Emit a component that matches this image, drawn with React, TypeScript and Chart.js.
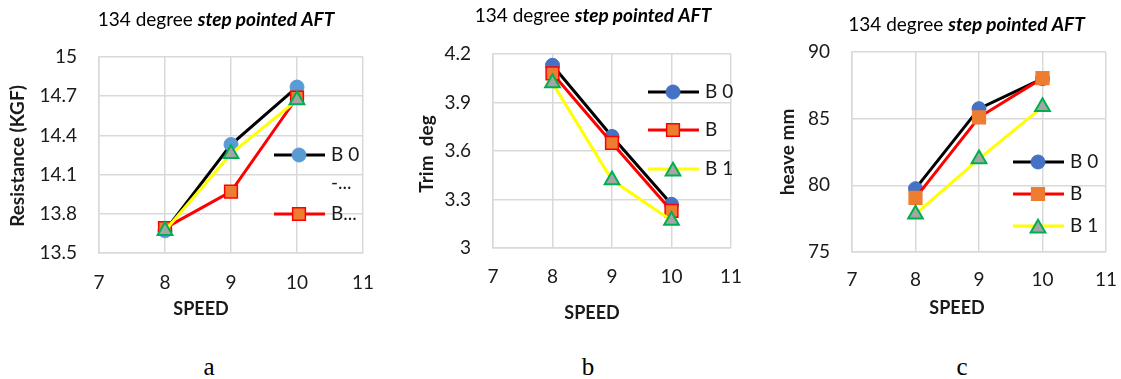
import React, { useEffect, useRef } from 'react';
import { Chart, registerables } from 'chart.js';

Chart.register(...registerables);

// ---------- data ----------
const speeds = [8, 9, 10];
const xTicks = [7, 8, 9, 10, 11];
const seriesNames = ['B 0', 'B', 'B 1'];

const resistanceB0 = [13.67, 14.33, 14.77];
const resistanceB = [13.69, 13.97, 14.69];
const resistanceB1 = [13.67, 14.26, 14.67];
const resistanceTicks = [13.5, 13.8, 14.1, 14.4, 14.7, 15];

const trimB0 = [4.13, 3.69, 3.27];
const trimB = [4.08, 3.65, 3.23];
const trimB1 = [4.02, 3.42, 3.17];
const trimTicks = [3, 3.3, 3.6, 3.9, 4.2];

const heaveB0 = [79.75, 85.75, 88.0];
const heaveB = [79.06, 85.1, 88.04];
const heaveB1 = [77.84, 81.98, 85.89];
const heaveTicks = [75, 80, 85, 90];

const titlePlain = '134 degree ';
const titleBold = 'step pointed AFT';
const xTitle = 'SPEED';
const legendLabelsA = ['B 0', '-...', 'B...'];
const captions = ['a', 'b', 'c'];

// ---------- styling ----------
const FONT = 'Lato, "Open Sans", sans-serif';
const GRID = '#d9d9d9';
const TEXT = '#1a1a1a';
const CANVAS_H = 330;
const TICK_SIZE = 19;

type LegendEntry = { label: string; ds: number | null; y: number };

type PanelSpec = {
  left: number;
  width: number;
  padTop: number;
  padRight: number;
  yAxisW: number;
  xAxisH: number;
  xLabelOffset: number;
  yMin: number;
  yMax: number;
  yTicks: number[];
  values: number[][];
  yTitle: string;
  circleColor: string;
  squareBorder: string;
  titleX: number;
  titleY: number;
  yTitleX: number;
  yTitleY: number;
  xTitleX: number;
  xTitleY: number;
  legend: LegendEntry[];
  legLineX1: number;
  legLineX2: number;
  legMarkerX: number;
  legTextX: number;
  captionX: number;
};

const panels: PanelSpec[] = [
  {
    left: 0, width: 383, padTop: 57, padRight: 20, yAxisW: 99, xAxisH: CANVAS_H - 253, xLabelOffset: 29.7,
    yMin: 13.5, yMax: 15, yTicks: resistanceTicks,
    values: [resistanceB0, resistanceB, resistanceB1],
    yTitle: 'Resistance (KGF)', circleColor: '#5B9BD5', squareBorder: '#FF0000',
    titleX: 216, titleY: 20, yTitleX: 18, yTitleY: 156, xTitleX: 201, xTitleY: 309,
    legend: [
      { label: legendLabelsA[0], ds: 0, y: 155 },
      { label: legendLabelsA[1], ds: null, y: 183 },
      { label: legendLabelsA[2], ds: 1, y: 214 },
    ],
    legLineX1: 274, legLineX2: 325, legMarkerX: 299, legTextX: 331, captionX: 209,
  },
  {
    left: 375, width: 376, padTop: 54, padRight: 20, yAxisW: 118, xAxisH: CANVAS_H - 248, xLabelOffset: 29,
    yMin: 3, yMax: 4.2, yTicks: trimTicks,
    values: [trimB0, trimB, trimB1],
    yTitle: 'Trim  deg', circleColor: '#4472C4', squareBorder: '#FF0000',
    titleX: 218, titleY: 15.5, yTitleX: 52, yTitleY: 154, xTitleX: 217, xTitleY: 313,
    legend: [
      { label: seriesNames[0], ds: 0, y: 92 },
      { label: seriesNames[1], ds: 1, y: 130 },
      { label: seriesNames[2], ds: 2, y: 169 },
    ],
    legLineX1: 273, legLineX2: 324, legMarkerX: 298, legTextX: 330, captionX: 588,
  },
  {
    left: 745, width: 381, padTop: 52, padRight: 20, yAxisW: 107, xAxisH: CANVAS_H - 252, xLabelOffset: 28.3,
    yMin: 75, yMax: 90, yTicks: heaveTicks,
    values: [heaveB0, heaveB, heaveB1],
    yTitle: 'heave mm', circleColor: '#4472C4', squareBorder: '#ED7D31',
    titleX: 221.5, titleY: 24.5, yTitleX: 43, yTitleY: 152, xTitleX: 212, xTitleY: 308,
    legend: [
      { label: seriesNames[0], ds: 0, y: 162 },
      { label: seriesNames[1], ds: 1, y: 194 },
      { label: seriesNames[2], ds: 2, y: 226 },
    ],
    legLineX1: 268, legLineX2: 319, legMarkerX: 293, legTextX: 325, captionX: 962,
  },
];

function drawMarker(ctx: CanvasRenderingContext2D, style: string, x: number, y: number, r: number,
  fill: string, stroke: string, bw: number) {
  ctx.beginPath();
  if (style === 'circle') {
    ctx.arc(x, y, r, 0, Math.PI * 2);
  } else if (style === 'rect') {
    const s = Math.SQRT1_2 * r;
    ctx.rect(x - s, y - s, 2 * s, 2 * s);
  } else {
    const yc = y + r / 4;
    ctx.moveTo(x, yc - r);
    ctx.lineTo(x + r * Math.sin((2 * Math.PI) / 3), yc + r * 0.5);
    ctx.lineTo(x - r * Math.sin((2 * Math.PI) / 3), yc + r * 0.5);
  }
  ctx.closePath();
  ctx.fillStyle = fill;
  ctx.fill();
  if (bw > 0) {
    ctx.lineWidth = bw;
    ctx.strokeStyle = stroke;
    ctx.stroke();
  }
}

function makeDecor(spec: PanelSpec) {
  return {
    id: 'decor',
    afterDraw(chart: any) {
      const ctx: CanvasRenderingContext2D = chart.ctx;
      ctx.save();
      // chart title
      const f1 = `19px ${FONT}`;
      const f2 = `italic bold 19px ${FONT}`;
      ctx.font = f1;
      const w1 = ctx.measureText(titlePlain).width;
      ctx.font = f2;
      const w2 = ctx.measureText(titleBold).width;
      const x0 = spec.titleX - (w1 + w2) / 2;
      ctx.fillStyle = '#000';
      ctx.textBaseline = 'middle';
      ctx.textAlign = 'left';
      ctx.font = f1;
      ctx.fillText(titlePlain, x0, spec.titleY);
      ctx.font = f2;
      ctx.fillText(titleBold, x0 + w1, spec.titleY);

      // axis titles
      ctx.fillStyle = TEXT;
      ctx.textAlign = 'center';
      ctx.font = `bold 19px ${FONT}`;
      ctx.save();
      ctx.translate(spec.yTitleX, spec.yTitleY);
      ctx.rotate(-Math.PI / 2);
      ctx.fillText(spec.yTitle, 0, 0);
      ctx.restore();
      ctx.font = `bold 18px ${FONT}`;
      ctx.fillText(xTitle, spec.xTitleX, spec.xTitleY);

      // legend
      const dsets = chart.data.datasets;
      spec.legend.forEach((e) => {
        if (e.ds !== null) {
          const d = dsets[e.ds];
          ctx.beginPath();
          ctx.moveTo(spec.legLineX1, e.y);
          ctx.lineTo(spec.legLineX2, e.y);
          ctx.lineWidth = 3;
          ctx.strokeStyle = d.borderColor;
          ctx.stroke();
          drawMarker(ctx, d.pointStyle, spec.legMarkerX, e.y, d.pointRadius,
            d.pointBackgroundColor, d.pointBorderColor, d.pointBorderWidth);
        }
        ctx.fillStyle = TEXT;
        ctx.font = `19px ${FONT}`;
        ctx.textAlign = 'left';
        ctx.textBaseline = 'middle';
        ctx.fillText(e.label, spec.legTextX, e.y);
      });
      ctx.restore();
    },
  };
}

function buildConfig(spec: PanelSpec): any {
  const pts = (vals: number[]) => speeds.map((x, i) => ({ x, y: vals[i] }));
  return {
    type: 'line',
    data: {
      datasets: [
        {
          label: seriesNames[0], data: pts(spec.values[0]), order: 3,
          borderColor: '#000000', borderWidth: 3, tension: 0,
          pointStyle: 'circle', pointRadius: 7,
          pointBackgroundColor: spec.circleColor, pointBorderColor: spec.circleColor, pointBorderWidth: 1,
        },
        {
          label: seriesNames[1], data: pts(spec.values[1]), order: 2,
          borderColor: '#FF0000', borderWidth: 3, tension: 0,
          pointStyle: 'rect', pointRadius: 9,
          pointBackgroundColor: '#ED7D31', pointBorderColor: spec.squareBorder, pointBorderWidth: 1.5,
        },
        {
          label: seriesNames[2], data: pts(spec.values[2]), order: 1,
          borderColor: '#FFFF00', borderWidth: 3, tension: 0,
          pointStyle: 'triangle', pointRadius: 8.5,
          pointBackgroundColor: '#A5A5A5', pointBorderColor: '#00B050', pointBorderWidth: 2,
        },
      ],
    },
    options: {
      animation: false,
      responsive: false,
      devicePixelRatio: 1,
      layout: { padding: { left: 0, right: spec.padRight, top: spec.padTop, bottom: 0 } },
      plugins: { legend: { display: false }, tooltip: { enabled: false }, title: { display: false } },
      scales: {
        x: {
          type: 'linear', min: 7, max: 11,
          afterBuildTicks: (s: any) => { s.ticks = xTicks.map((v) => ({ value: v })); },
          afterFit: (s: any) => { s.height = spec.xAxisH; },
          grid: { color: GRID, lineWidth: 1.5, drawTicks: false },
          border: { color: GRID, width: 1.5 },
          ticks: {
            padding: 0, color: TEXT,
            font: { family: FONT, size: TICK_SIZE, lineHeight: (2 * spec.xLabelOffset) / TICK_SIZE },
            callback: (v: any) => String(v),
          },
        },
        y: {
          type: 'linear', min: spec.yMin, max: spec.yMax,
          afterBuildTicks: (s: any) => { s.ticks = spec.yTicks.map((v) => ({ value: v })); },
          afterFit: (s: any) => { s.width = spec.yAxisW; },
          grid: { color: GRID, lineWidth: 1.5, drawTicks: false },
          border: { color: GRID, width: 1.5 },
          ticks: { padding: 22, color: TEXT, font: { family: FONT, size: TICK_SIZE }, callback: (v: any) => String(v) },
        },
      },
    },
    plugins: [makeDecor(spec)],
  };
}

function ChartPanel({ spec }: { spec: PanelSpec }) {
  const ref = useRef<HTMLCanvasElement>(null);
  useEffect(() => {
    const chart = new Chart(ref.current as HTMLCanvasElement, buildConfig(spec));
    return () => chart.destroy();
  }, [spec]);
  return (
    <canvas
      ref={ref}
      width={spec.width}
      height={CANVAS_H}
      style={{ position: 'absolute', left: spec.left, top: 0, width: spec.width, height: CANVAS_H, display: 'block' }}
    />
  );
}

export default function App() {
  return (
    <div style={{ position: 'absolute', left: 0, top: 0, width: 1121, height: 379, background: '#fff', overflow: 'hidden' }}>
      {panels.map((p, i) => (
        <ChartPanel key={i} spec={p} />
      ))}
      {panels.map((p, i) => (
        <div
          key={'c' + i}
          style={{
            position: 'absolute', left: p.captionX - 20, top: 354, width: 40, textAlign: 'center',
            fontFamily: '"Liberation Serif", "Times New Roman", serif', fontSize: 25, lineHeight: '25px', color: '#000',
          }}
        >
          {captions[i]}
        </div>
      ))}
    </div>
  );
}
